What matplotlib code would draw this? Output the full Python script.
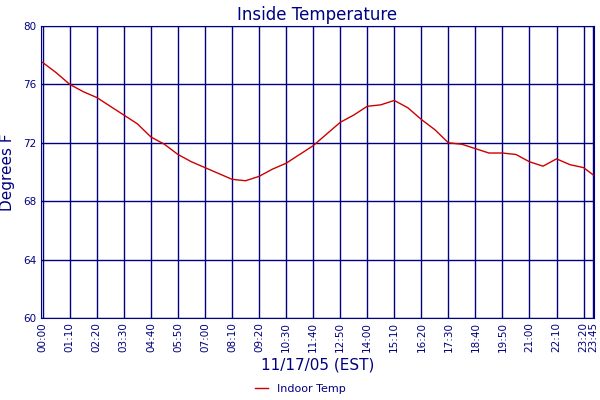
import matplotlib
matplotlib.use("Agg")
import matplotlib.pyplot as plt

minutes = [0,35,70,105,140,175,210,245,280,315,350,385,420,455,490,525,560,595,630,665,700,
           735,770,805,840,875,910,945,980,1015,1050,1085,1120,1155,1190,1225,1260,1295,1330,1365,1400,1425]
temps = [77.5,76.8,76.0,75.5,75.1,74.5,73.9,73.3,72.4,71.9,71.2,70.7,70.3,69.9,69.5,69.4,69.7,70.2,70.6,71.2,71.8,
         72.6,73.4,73.9,74.5,74.6,74.9,74.4,73.6,72.9,72.0,71.9,71.6,71.3,71.3,71.2,70.7,70.4,70.9,70.5,70.3,69.8]
tick_minutes = list(range(0, 1401, 70)) + [1425]
tick_labels = [f"{m//60:02d}:{m%60:02d}" for m in tick_minutes]
yticks = [60, 64, 68, 72, 76, 80]

navy = "#000080"
fig = plt.figure(figsize=(6, 4), dpi=100)
ax = fig.add_axes([0.068, 0.205, 0.922, 0.73])
ax.plot(minutes, temps, color="#cc0000", lw=1, label="Indoor Temp")
ax.set_xlim(-5, 1427)
ax.set_ylim(60, 80)
ax.set_xticks(tick_minutes)
ax.set_xticklabels(tick_labels, rotation=90, fontsize=7.5, color=navy)
ax.set_yticks(yticks)
ax.set_yticklabels([str(v) for v in yticks], fontsize=7.5, color=navy)
ax.grid(True, color=navy, lw=1)
ax.tick_params(length=0, pad=3)
for s in ax.spines.values():
    s.set_color(navy)
ax.set_title("Inside Temperature", fontsize=12, color=navy, pad=4)
ax.set_ylabel("Degrees F", fontsize=11, color=navy, labelpad=6)
ax.set_xlabel("11/17/05 (EST)", fontsize=11, color=navy, labelpad=4)
fig.legend(loc="lower center", bbox_to_anchor=(0.5, -0.01), frameon=False, fontsize=8,
           labelcolor=navy, handlelength=1.2)
fig.savefig("out.png")
